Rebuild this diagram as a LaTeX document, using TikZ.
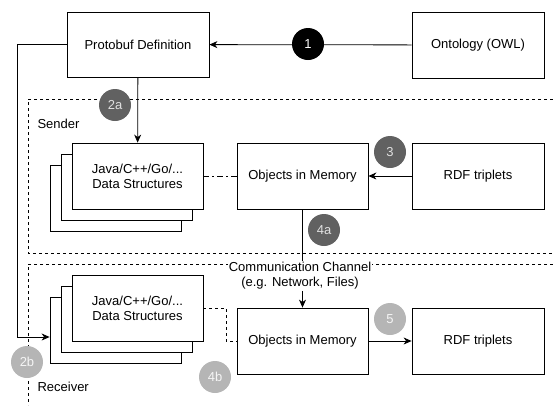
\documentclass[tikz,border=0pt]{standalone}
\usepackage{fontspec}
\setmainfont{Liberation Sans}
\usetikzlibrary{arrows.meta,calc}
\definecolor{stepdark}{HTML}{616161}
\definecolor{steplight}{HTML}{B5B5B5}
\tikzset{
  box/.style={draw, fill=white, line width=0.8pt, minimum width=131pt, minimum height=66pt, align=center, inner sep=2pt},
  region/.style={line width=0.8pt, dash pattern=on 3pt off 3pt},
  flow/.style={line width=0.8pt, -{Stealth[length=8pt,width=7pt,inset=2.5pt]}},
  marker/.style={circle, minimum size=32pt, inner sep=0pt},
  darkmark/.style={marker, fill=stepdark, text=black!12},
  lightmark/.style={marker, fill=steplight, text=black!4},
}
\begin{document}
\begin{tikzpicture}[x=1pt, y=-1pt, font=\fontsize{13}{15}\selectfont]
    \useasboundingbox (0,0) rectangle (553,405);
    % sender and receiver areas
    \draw[region] (553,99) -- (28,99) -- (28,253) -- (553,253);
    \draw[region] (553,264) -- (28,264) -- (28,405);
    \node[anchor=west] (sender) at (34,124) {Sender};
    \node[anchor=west] (receiver) at (34,387) {Receiver};

    % definitions
    \node[box, minimum width=142pt, minimum height=65pt] (proto) at (138,44.5) {Protobuf Definition};
    \node[box, minimum width=132pt] (owl) at (478,45) {Ontology (OWL)};

    % sender side
    \foreach \k in {2,1}
    {%
        \node[box] (dsS\k) at (137.5-11*\k,176+11*\k) {};
    }%
    \node[box] (dsS) at (137.5,176) {Java/C++/Go/...\\Data Structures};
    \node[box] (objS) at (302.5,176) {Objects in Memory};
    \node[box, minimum width=132pt] (rdfS) at (478,176) {RDF triplets};

    % receiver side
    \foreach \k in {2,1}
    {%
        \node[box] (dsR\k) at (137.5-11*\k,308+11*\k) {};
    }%
    \node[box] (dsR) at (137.5,308) {Java/C++/Go/...\\Data Structures};
    \node[box] (objR) at (302.5,341) {Objects in Memory};
    \node[box, minimum width=132pt] (rdfR) at (478,341) {RDF triplets};

    \node[fill=white, align=center, inner sep=1pt] (chan) at (300,276) {Communication Channel\\(e.g. Network, Files)};

    % connectors
    \draw[flow] (owl) -- (proto);
    \draw[flow] (proto) -- (dsS);
    \draw[flow] (proto.west) -| (17,337) -- ($(dsR2.west)+(0,7)$);
    \draw[line width=0.8pt, dash pattern=on 6pt off 3pt on 2pt off 3pt] (dsS) -- (objS);
    \draw[flow] (rdfS) -- (objS);
    \draw[line width=0.8pt] (objS.south) -- (objS.south |- chan.north);
    \draw[flow] (objS.south |- chan.south) -- (objR.north);
    \draw[region] (dsR.east) -- ++(23,0) |- (objR.west);
    \draw[flow] (objR) -- (rdfR);

    % step markers
    \node[marker, fill=black, text=white] (m1) at (308,44) {1};
    \node[darkmark] (m2a) at (115,105) {2a};
    \node[darkmark] (m3) at (390,152) {3};
    \node[darkmark] (m4a) at (324,230) {4a};
    \node[lightmark] (m2b) at (27,362) {2b};
    \node[lightmark] (m4b) at (215,377) {4b};
    \node[lightmark] (m5) at (390,319) {5};
\end{tikzpicture}
\end{document}
